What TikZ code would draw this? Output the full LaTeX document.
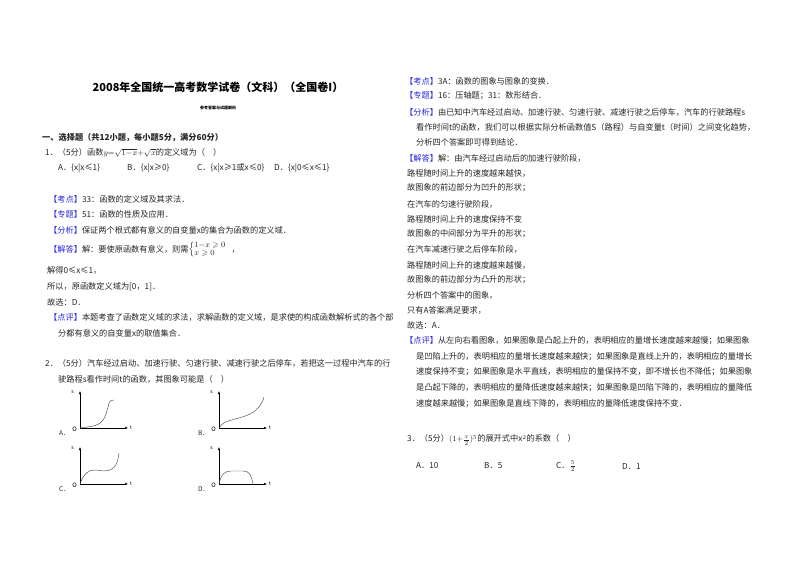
\documentclass[tikz,border=0pt]{standalone}
\usepackage{amsmath,amssymb}
\usepackage{fontspec}
\setmainfont{Noto Sans CJK SC}
\usetikzlibrary{arrows.meta,calc}
\definecolor{kb}{RGB}{40,40,230}
\newcommand{\kw}[1]{\textcolor{kb}{【#1】}}
\newcommand{\tx}[4]{\node[txt] (#1) at (#2,-#3) {#4};}
\begin{document}
\begin{tikzpicture}[x=1pt,y=1pt,
  txt/.style={anchor=west,inner sep=0pt,font=\fontsize{8.2}{8}\selectfont,text=black!85},
  ax/.style={-{Latex[length=3pt,width=2.5pt]},line width=0.5pt},
  crv/.style={line width=0.45pt,black!70},
  gl/.style={inner sep=0pt,font=\fontsize{5}{6}\selectfont\itshape}]
\useasboundingbox (0,0) rectangle (800,-565);
\fill[white] (0,0) rectangle (800,-565);
% left column
\node[inner sep=0pt,font=\fontsize{11}{12}\selectfont\bfseries] (title) at (218,-87) {2008年全国统一高考数学试卷（文科）（全国卷I）};
\node[inner sep=0pt,font=\fontsize{4}{5}\selectfont\bfseries] (sub) at (218,-108) {参考答案与试题解析};
\node[txt,font=\fontsize{8.2}{8}\selectfont\bfseries] (sec) at (42,-138) {一、选择题（共12小题，每小题5分，满分60分）};
\tx{q1}{45}{153}{1．（5分）函数$y{=}\sqrt{1{-}x}{+}\sqrt{x}$的定义域为（\quad ）}
\tx{o1a}{58}{168}{A．\{x|x≤1\}}
\tx{o1b}{127}{168}{B．\{x|x≥0\}}
\tx{o1c}{197}{168}{C．\{x|x≥1或x≤0\}}
\tx{o1d}{274}{168}{D．\{x|0≤x≤1\}}
\tx{k1}{49}{199}{\kw{考点}33：函数的定义域及其求法．}
\tx{z1}{49}{214}{\kw{专题}51：函数的性质及应用．}
\tx{f1}{49}{230}{\kw{分析}保证两个根式都有意义的自变量x的集合为函数的定义域．}
\tx{j1}{49}{250}{\kw{解答}解：要使原函数有意义，则需$\left\{\begin{array}{@{}l}1{-}x\geqslant0\\ x\geqslant0\end{array}\right.$，}
\tx{j2}{47}{270}{解得0≤x≤1，}
\tx{j3}{47}{287}{所以，原函数定义域为[0，1]．}
\tx{j4}{47}{302}{故选：D．}
\tx{p1}{49}{317}{\kw{点评}本题考查了函数定义域的求法，求解函数的定义域，是求使的构成函数解析式的各个部}
\tx{p1b}{58}{333}{分都有意义的自变量x的取值集合．}
\tx{q2}{45}{363}{2．（5分）汽车经过启动、加速行驶、匀速行驶、减速行驶之后停车，若把这一过程中汽车的行}
\tx{q2b}{58}{379}{驶路程s看作时间t的函数，其图象可能是（\quad ）}
% graphs
\foreach \n/\ox/\oy/\lab in {A/80/428/A,B/219/428/B,C/80/484/C,D/219/484/D}{
  \coordinate (o\n) at (\ox,-\oy);
  \draw[ax] (o\n) -- ++(0,37);
  \draw[ax] (o\n) -- ++(48,0);
  \node[gl,anchor=east] (s\n) at ($(o\n)+(-6,36)$) {s};
  \node[gl,anchor=west] (t\n) at ($(o\n)+(50,0)$) {t};
  \node[gl,anchor=east,font=\fontsize{6}{6}\selectfont\itshape] (O\n) at ($(o\n)+(-3,-1)$) {O};
  \node[txt,font=\fontsize{6.5}{7}\selectfont] (L\n) at ($(o\n)+(-21,-5)$) {\lab．};
}
\draw[crv] (oA) .. controls +(15,2) and +(-4,-12) .. ++(26,14) .. controls +(4,12) and +(-6,0) .. ++(8,14);
\draw[crv] (oB) .. controls +(4,6) and +(-10,-3) .. ++(16,9) .. controls +(12,3) and +(-5,-6) .. ++(24,12) .. controls +(2,3) and +(-1,-4) .. ++(5,10);
\draw[crv] (oC) .. controls +(3,9) and +(-6,0) .. ++(14,14) .. controls +(8,0) and +(-8,-2) .. ++(16,0) .. controls +(6,2) and +(-1,-8) .. ++(9,17);
\draw[crv] (oD) .. controls +(2,10) and +(-6,0) .. ++(12,13) .. controls +(6,0) and +(-6,0) .. ++(12,0) .. controls +(6,0) and +(-2,10) .. ++(10,-13);
% right column
\tx{k2}{405}{81}{\kw{考点}3A：函数的图象与图象的变换．}
\tx{z2}{405}{96}{\kw{专题}16：压轴题；31：数形结合．}
\tx{f2}{405}{112}{\kw{分析}由已知中汽车经过启动、加速行驶、匀速行驶、减速行驶之后停车，汽车的行驶路程s}
\tx{f2b}{416}{127}{看作时间t的函数，我们可以根据实际分析函数值S（路程）与自变量t（时间）之间变化趋势，}
\tx{f2c}{416}{142}{分析四个答案即可得到结论．}
\tx{j5}{405}{158}{\kw{解答}解：由汽车经过启动后的加速行驶阶段，}
\tx{r1}{407}{173}{路程随时间上升的速度越来越快，}
\tx{r2}{407}{188}{故图象的前边部分为凹升的形状；}
\tx{r3}{407}{204}{在汽车的匀速行驶阶段，}
\tx{r4}{407}{219}{路程随时间上升的速度保持不变}
\tx{r5}{407}{234}{故图象的中间部分为平升的形状；}
\tx{r6}{407}{249}{在汽车减速行驶之后停车阶段，}
\tx{r7}{407}{265}{路程随时间上升的速度越来越慢，}
\tx{r8}{407}{280}{故图象的前边部分为凸升的形状；}
\tx{r9}{407}{295}{分析四个答案中的图象，}
\tx{r10}{407}{310}{只有A答案满足要求，}
\tx{r11}{407}{325}{故选：A．}
\tx{p2}{405}{341}{\kw{点评}从左向右看图象，如果图象是凸起上升的，表明相应的量增长速度越来越慢；如果图象}
\tx{p2b}{416}{357}{是凹陷上升的，表明相应的量增长速度越来越快；如果图象是直线上升的，表明相应的量增长}
\tx{p2c}{416}{372}{速度保持不变；如果图象是水平直线，表明相应的量保持不变，即不增长也不降低；如果图象}
\tx{p2d}{416}{388}{是凸起下降的，表明相应的量降低速度越来越快；如果图象是凹陷下降的，表明相应的量降低}
\tx{p2e}{416}{404}{速度越来越慢；如果图象是直线下降的，表明相应的量降低速度保持不变．}
\tx{q3}{407}{440}{3．（5分）$(1{+}\frac{x}{2})^{5}$的展开式中x$^{2}$的系数（\quad ）}
\tx{o3a}{416}{466}{A．10}
\tx{o3b}{484}{466}{B．5}
\tx{o3c}{556}{466}{C．$\frac{5}{2}$}
\tx{o3d}{622}{466}{D．1}
\end{tikzpicture}
\end{document}
